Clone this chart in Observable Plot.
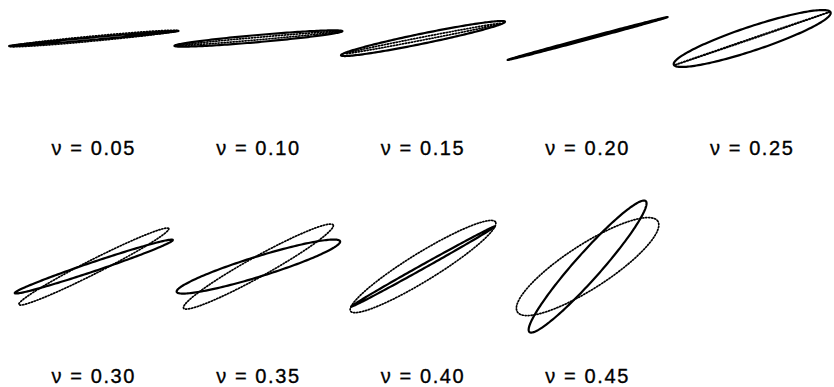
<!DOCTYPE html>
<html>
<head>
<meta charset="utf-8">
<script src="https://cdn.jsdelivr.net/npm/d3@7"></script>
<script src="https://cdn.jsdelivr.net/npm/@observablehq/plot@0.6"></script>
<style>
  html, body { margin: 0; padding: 0; background: #fff; }
  #chart svg { display: block; }
  #chart g[aria-label="text"] text { letter-spacing: 1.6px; }
</style>
</head>
<body>
<div id="chart"></div>
<script>
// Poisson ratio of each panel and its place in the 5 x 2 grid
const nu  = [0.05, 0.10, 0.15, 0.20, 0.25, 0.30, 0.35, 0.40, 0.45];
const col = [0, 1, 2, 3, 4, 0, 1, 2, 3];
const row = [0, 0, 0, 0, 0, 1, 1, 1, 1];

// Solid ellipse per panel: tilt (degrees), semi-major and semi-minor axes (panel units)
const solidTilt  = [5.1, 5.0, 11.6, 15.0, 18.4, 18.6, 17.2, 29.2, 48.4];
const solidMajor = [1.033, 1.024, 1.017, 1.006, 1.004, 1.013, 1.039, 0.998, 1.064];
const solidMinor = [0.015, 0.043, 0.061, 0.012, 0.146, 0.055, 0.122, 0.024, 0.158];

// Dotted ellipse per panel
const dottedTilt  = [5.4, 5.0, 11.0, 15.0, 18.9, 26.9, 29.1, 31.6, 32.9];
const dottedMajor = [1.02, 0.99, 0.96, 1.0, 0.996, 1.021, 1.040, 1.034, 1.016];
const dottedMinor = [0.03, 0.015, 0.018, 0.003, 0.004, 0.085, 0.122, 0.170, 0.267];

const panels = nu.map((v, i) => ({nu: v, col: col[i], row: row[i]}));

// Outline of an ellipse centred in its panel
function outline(i, kind, tilt, a, b) {
  const th = tilt * Math.PI / 180, c = Math.cos(th), s = Math.sin(th);
  const n = 180;
  return d3.range(n + 1).map(j => {
    const t = 2 * Math.PI * j / n;
    const u = a * Math.cos(t), w = b * Math.sin(t);
    return {key: `${kind}-${i}`, col: col[i], row: row[i], x: u * c - w * s, y: u * s + w * c};
  });
}

const solid  = nu.flatMap((_, i) => outline(i, "solid", solidTilt[i], solidMajor[i], solidMinor[i]));
const dotted = nu.flatMap((_, i) => outline(i, "dotted", dottedTilt[i], dottedMajor[i], dottedMinor[i]));

const chart = Plot.plot({
  width: 834,
  height: 387,
  marginLeft: 11,
  marginRight: 0,
  marginTop: 0,
  marginBottom: 0,
  x: {domain: [-1, 1], axis: null},
  y: {domain: [-1.47, 0.462], axis: null},
  fx: {domain: [0, 1, 2, 3, 4], padding: 0, round: false, axis: null},
  fy: {domain: [0, 1], paddingInner: 0.303, paddingOuter: 0, round: false, axis: null},
  style: {background: "#fff"},
  marks: [
    Plot.line(dotted, {
      x: "x", y: "y", z: "key", fx: "col", fy: "row",
      stroke: "#000", strokeWidth: 1.7, strokeDasharray: "1.2 1.8", curve: "linear"
    }),
    Plot.line(solid, {
      x: "x", y: "y", z: "key", fx: "col", fy: "row",
      stroke: "#000", strokeWidth: 2.2, curve: "linear"
    }),
    Plot.text(panels, {
      fx: "col", fy: "row",
      text: d => `ν = ${d.nu.toFixed(2)}`,
      frameAnchor: "bottom", dy: -11, lineAnchor: "middle",
      fontSize: 20, fontFamily: "Liberation Sans, Arial, sans-serif",
      fill: "#000", stroke: "#000", strokeWidth: 0.35
    })
  ]
});

document.getElementById("chart").appendChild(chart);
</script>
</body>
</html>
